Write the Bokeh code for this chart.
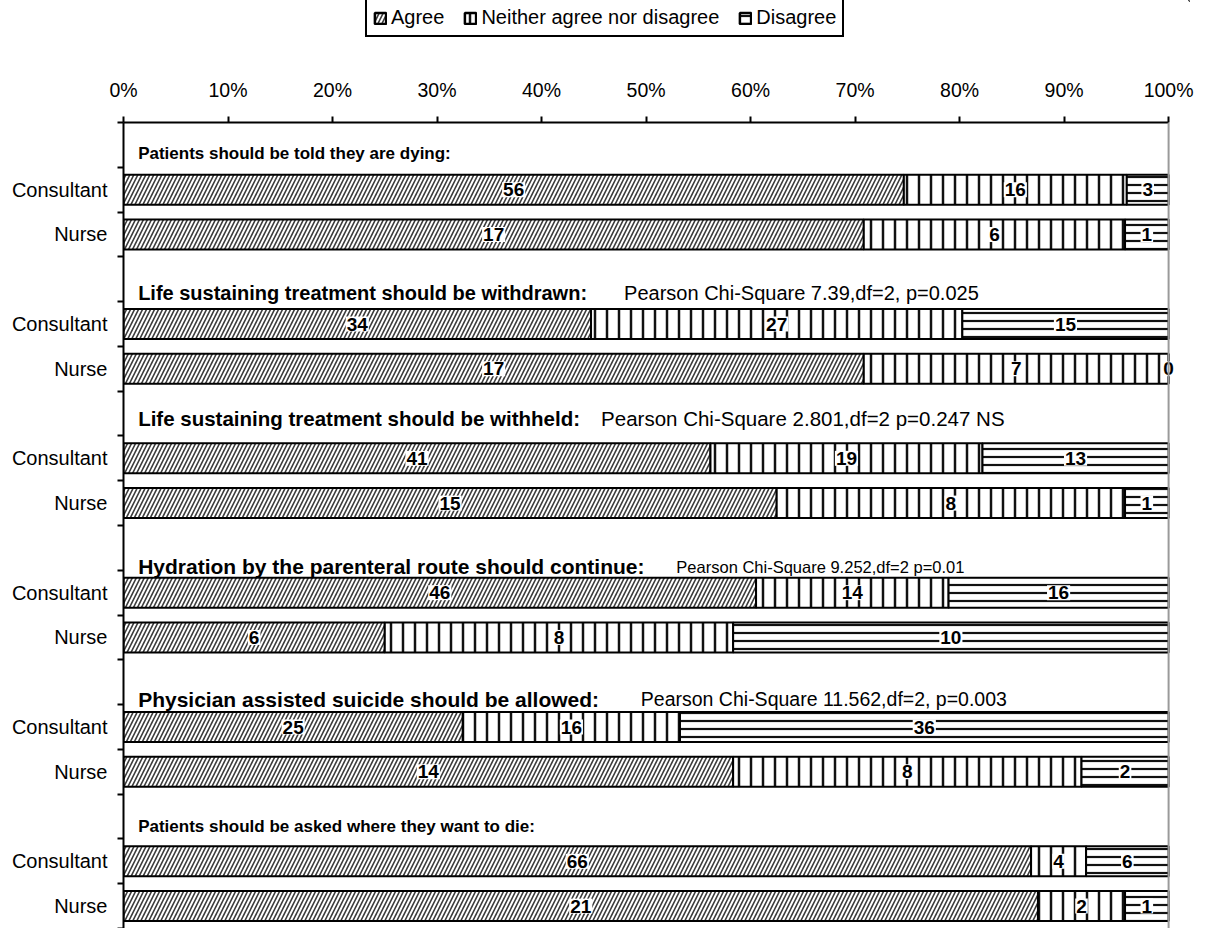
from bokeh.plotting import figure
from bokeh.layouts import column
from bokeh.models import (ColumnDataSource, FixedTicker, Legend, LegendItem, Span,
                          Range1d, PrintfTickFormatter)
from bokeh.embed import file_html
from bokeh.resources import INLINE
from bokeh.core.properties import value

# ---------------- data ----------------
questions = [
    "Patients should be told they are dying:",
    "Life sustaining treatment should be withdrawn:",
    "Life sustaining treatment should be withheld:",
    "Hydration by the parenteral route should continue:",
    "Physician assisted suicide should be allowed:",
    "Patients should be asked where they want to die:",
]
stats_text = [
    "",
    "Pearson Chi-Square 7.39,df=2, p=0.025",
    "Pearson Chi-Square 2.801,df=2 p=0.247 NS",
    "Pearson Chi-Square 9.252,df=2 p=0.01",
    "Pearson Chi-Square 11.562,df=2, p=0.003",
    "",
]
roles = ["Consultant", "Nurse"]
series = ["Agree", "Neither agree nor disagree", "Disagree"]
# order: (Q1 Consultant, Q1 Nurse, Q2 Consultant, Q2 Nurse, ...)
agree    = [56, 17, 34, 17, 41, 15, 46, 6, 25, 14, 66, 21]
neither  = [16, 6, 27, 7, 19, 8, 14, 8, 16, 8, 4, 2]
disagree = [3, 1, 15, 0, 13, 1, 16, 10, 36, 2, 6, 1]
x_ticks = [0, 10, 20, 30, 40, 50, 60, 70, 80, 90, 100]

# ---------------- layout / style helpers (not data) ----------------
title_dy = [9, 14, 5, 19, 17, 10]                 # px offset of titles below row centre
title_size = ["17px", "20px", "20.5px", "21px", "21px", "17px"]
stats_x = [0, 47.9, 45.7, 52.9, 49.5, 0]           # where the statistics note starts (% of axis)
stats_size = ["18px", "20px", "20.5px", "16.5px", "19.5px", "18px"]
FONT = "Liberation Sans"
FRAME_W, FRAME_H = 1066, 806
LEG_H = 44
TOP, LEFT, RIGHT = 122 - LEG_H, 123, 8
TOTAL_W = LEFT + FRAME_W + RIGHT

n_rows = 3 * len(questions)
bar_y, bar_role = [], []
for g in range(len(questions)):
    for k, r in enumerate(roles):
        bar_y.append(3 * g + 1 + k + 0.5)
        bar_role.append(r)

tot = [a + b + c for a, b, c in zip(agree, neither, disagree)]
pa = [a / t * 100 for a, t in zip(agree, tot)]
pn = [b / t * 100 for b, t in zip(neither, tot)]
pd_ = [c / t * 100 for c, t in zip(disagree, tot)]
a_l = [0.0] * len(pa)
a_r = pa
n_l = pa
n_r = [x + y for x, y in zip(pa, pn)]
d_l = n_r
d_r = [x + y for x, y in zip(n_r, pd_)]

p = figure(frame_width=FRAME_W, frame_height=FRAME_H,
           x_range=Range1d(0, 102), y_range=Range1d(n_rows, 0),
           x_axis_location="above", output_backend="svg", toolbar_location=None,
           min_border_left=LEFT, min_border_right=RIGHT, min_border_bottom=0, min_border_top=TOP)
p.outline_line_color = None
p.xgrid.visible = False
p.ygrid.visible = False
p.background_fill_color = "white"

hatch = [
    dict(hatch_pattern="/", hatch_scale=8, hatch_weight=1.6, hatch_color="#3a3a3a"),
    dict(hatch_pattern="|", hatch_scale=12, hatch_weight=2.5, hatch_color="#111111"),
    dict(hatch_pattern="-", hatch_scale=8, hatch_weight=2.2, hatch_color="#111111"),
]
lefts = [a_l, n_l, d_l]
rights = [a_r, n_r, d_r]
counts = [agree, neither, disagree]
for i in range(3):
    src = ColumnDataSource(dict(y=bar_y, left=lefts[i], right=rights[i],
                                mid=[(l + r) / 2 for l, r in zip(lefts[i], rights[i])],
                                lab=[str(v) for v in counts[i]]))
    p.hbar(y="y", left="left", right="right", height=0.67, source=src,
           fill_color="white", line_color="black", line_width=2, **hatch[i])
    p.text(x="mid", y="y", text="lab", source=src, text_align="center",
           text_baseline="middle", text_font=value(FONT), text_font_style="bold",
           text_font_size="19px", text_color="black",
           background_fill_color="white", padding=1)

# question titles and statistics notes
row_title_y = [3 * g + 0.5 for g in range(len(questions))]
title_src = ColumnDataSource(dict(x=[1.4] * len(questions), y=row_title_y,
                                  dy=title_dy, t=questions, fs=title_size))
p.text(x="x", y="y", y_offset="dy", text="t", source=title_src, text_align="left",
       text_baseline="middle", text_font=value(FONT), text_font_style="bold",
       text_font_size="fs", text_color="black")
stat_src = ColumnDataSource(dict(x=stats_x, y=row_title_y, dy=title_dy, t=stats_text,
                                 fs=stats_size))
p.text(x="x", y="y", y_offset="dy", text="t", source=stat_src, text_align="left",
       text_baseline="middle", text_font=value(FONT), text_font_size="fs",
       text_color="black")

# right-hand grey border at 100 %
p.add_layout(Span(location=100, dimension="height", line_color="#9a9a9a", line_width=2))

# top axis
xa = p.xaxis[0]
xa.ticker = FixedTicker(ticks=x_ticks, minor_ticks=[])
xa.formatter = PrintfTickFormatter(format="%d%%")
xa.bounds = (0, 100)
xa.axis_line_width = 2
xa.axis_line_color = "black"
xa.major_tick_in = 0
xa.major_tick_out = 6
xa.major_tick_line_width = 2
xa.minor_tick_line_color = None
xa.major_label_text_font = FONT
xa.major_label_text_font_size = "19.5px"
xa.major_label_text_color = "black"
xa.major_label_standoff = 16

# left axis: labels at bar centres, ticks at row boundaries
ya = p.yaxis[0]
ya.ticker = FixedTicker(ticks=bar_y, minor_ticks=list(range(n_rows + 1)))
ya.major_label_overrides = {y: r for y, r in zip(bar_y, bar_role)}
ya.major_tick_line_color = None
ya.minor_tick_in = 0
ya.minor_tick_out = 6
ya.minor_tick_line_width = 2
ya.axis_line_width = 2
ya.axis_line_color = "black"
ya.major_label_text_font = FONT
ya.major_label_text_font_size = "20px"
ya.major_label_text_color = "black"
ya.major_label_standoff = 10

# ---------------- legend strip above the chart ----------------
lg = figure(width=TOTAL_W, height=LEG_H, x_range=Range1d(0, 1), y_range=Range1d(0, 1),
            x_axis_location=None, y_axis_location=None, output_backend="svg",
            toolbar_location=None, min_border=0)
lg.outline_line_color = None
lg.xgrid.visible = False
lg.ygrid.visible = False
# one off-screen sample per series so that the legend can draw its swatch
swatch = ColumnDataSource(dict(y=[40], left=[40], right=[41]))
leg_r = [lg.hbar(y="y", left="left", right="right", height=0.5, source=swatch,
                 fill_color="white", line_color="black", line_width=2.5, **hatch[i])
         for i in range(3)]
legend = Legend(items=[LegendItem(label=s, renderers=[leg_r[i]]) for i, s in enumerate(series)],
                orientation="horizontal", location=(242, 7))
legend.label_text_font = FONT
legend.label_text_font_size = "20px"
legend.label_text_color = "black"
legend.glyph_width = 14
legend.glyph_height = 14
legend.spacing = 19
legend.label_standoff = 4
legend.padding = 6
legend.margin = 0
legend.border_line_color = "black"
legend.border_line_width = 2
legend.border_line_alpha = 1
legend.background_fill_alpha = 1
lg.add_layout(legend, "center")

layout = column(lg, p, spacing=0)
open("out.html", "w").write(file_html(layout, INLINE))
